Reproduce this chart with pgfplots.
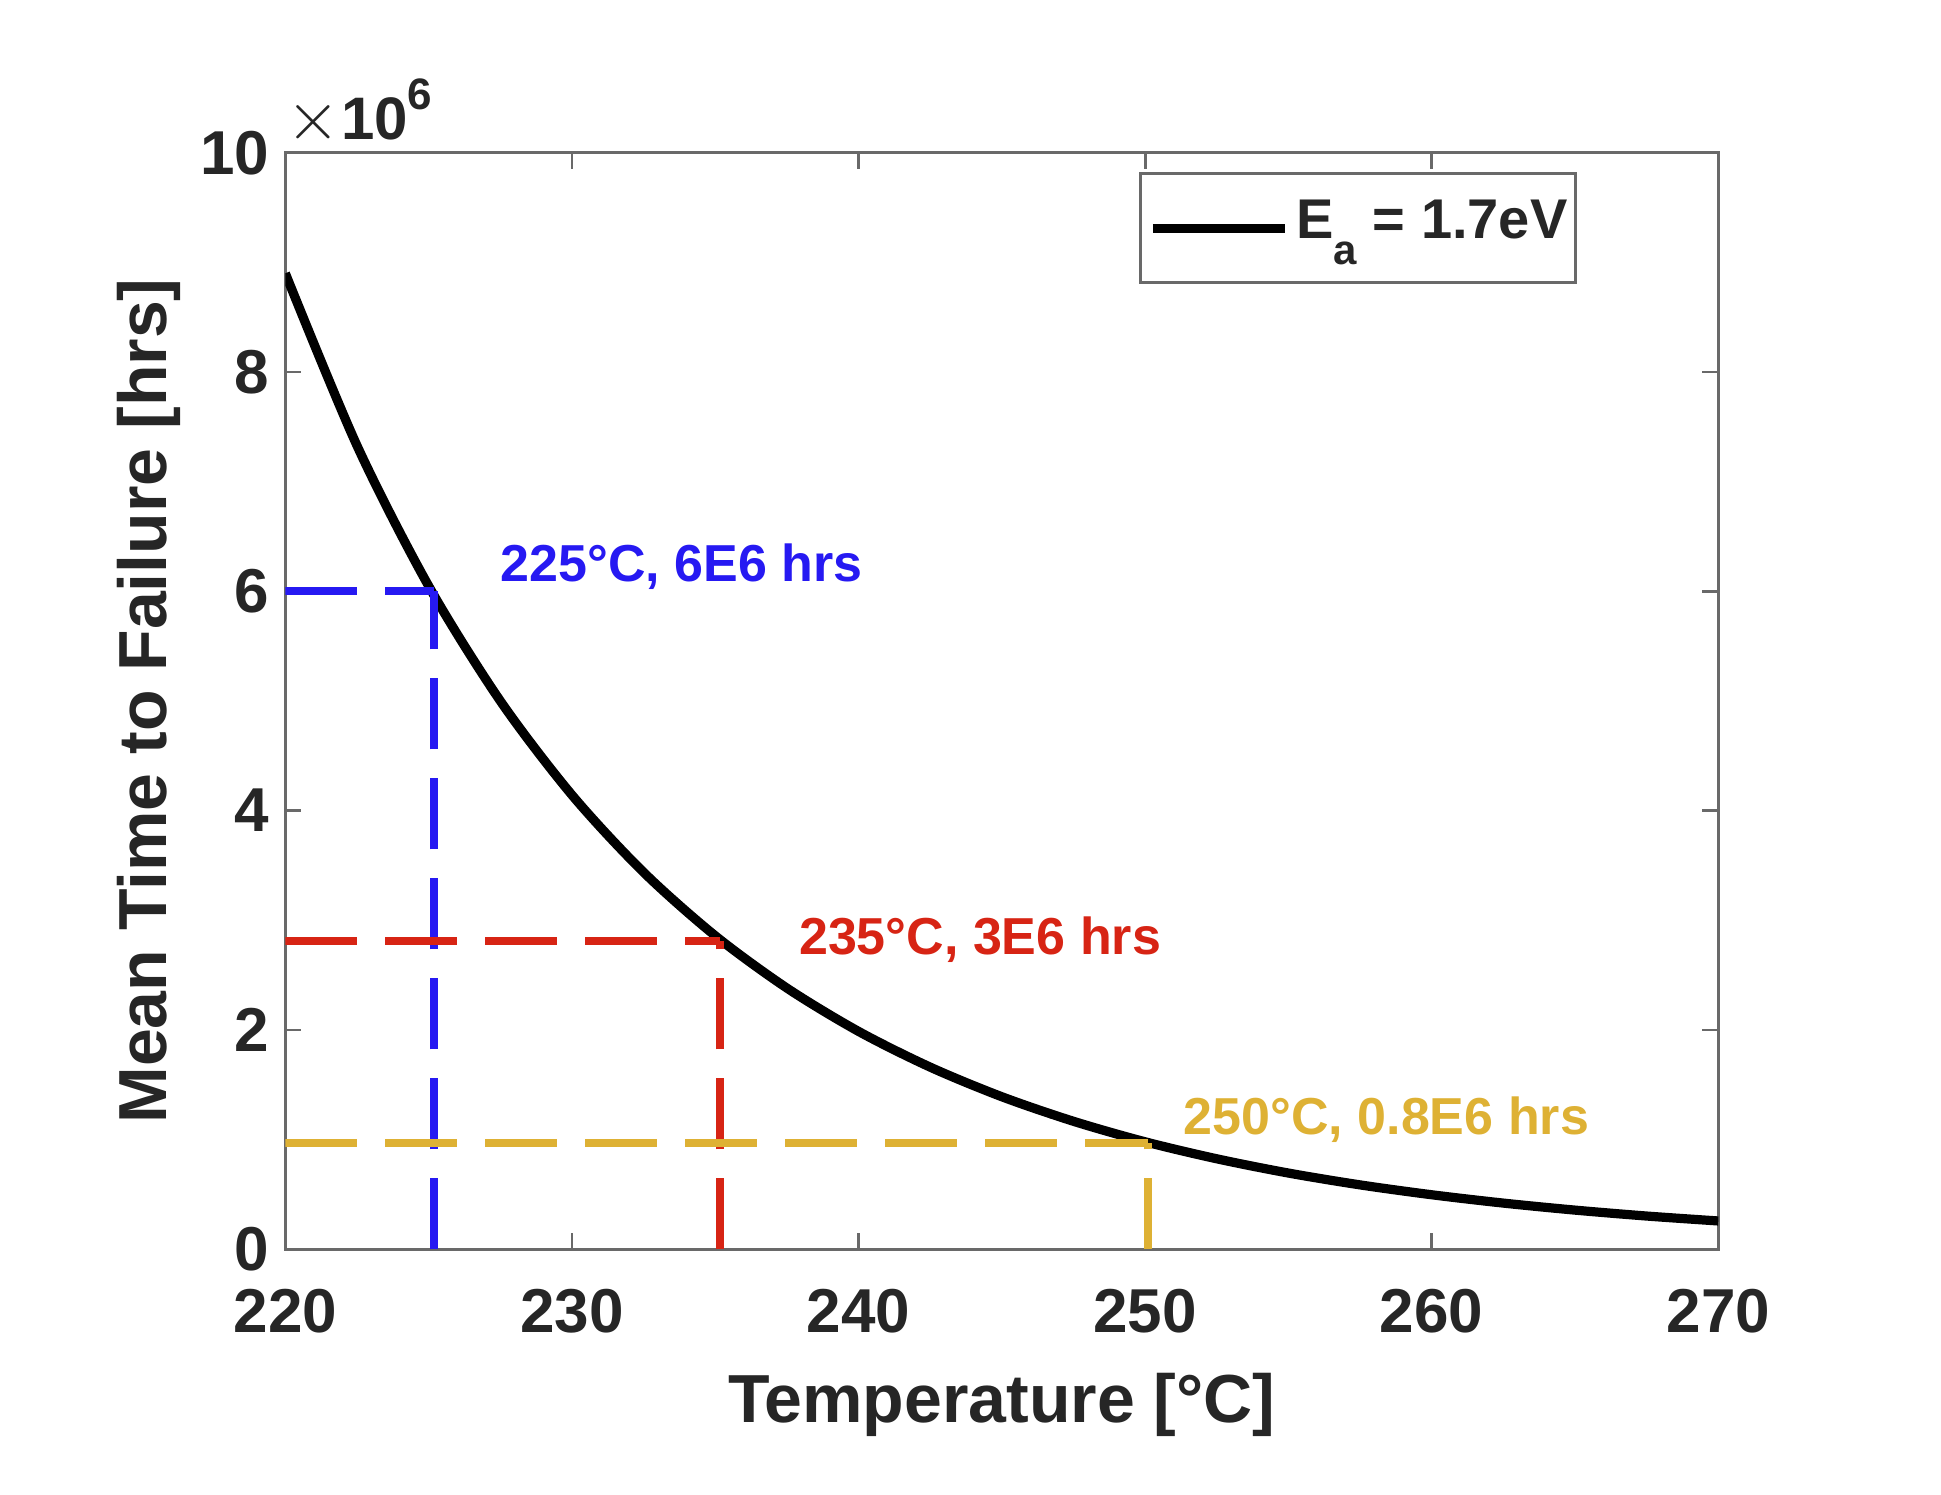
\documentclass[border=0pt]{standalone}
\usepackage{fontspec}
\setmainfont{Liberation Sans}
\usepackage{pgfplots}
\pgfplotsset{compat=1.18}
\definecolor{txtgray}{RGB}{38,38,38}
\definecolor{axgray}{RGB}{105,105,105}
\definecolor{cblue}{RGB}{38,25,242}
\definecolor{cred}{RGB}{215,36,20}
\definecolor{cyel}{RGB}{222,177,52}
\begin{document}
\begin{tikzpicture}
\begin{axis}[
  name=ax, at={(0,0)}, anchor=south west,
  scale only axis, width=358.25pt, height=274.15pt,
  xmin=220, xmax=270, ymin=0, ymax=10,
  clip mode=individual,
  xtick={220,230,...,270}, ytick={0,2,...,10},
  axis line style={draw=axgray, line width=0.7pt},
  every tick/.style={draw=axgray, line width=0.7pt},
  major tick length=4pt, tick align=inside,
  /pgf/number format/assume math mode=true,
  tick label style={font=\fontsize{15.5}{15.5}\selectfont\bfseries, text=txtgray},
  xticklabel style={yshift=-6.5pt},
  yticklabel style={xshift=-0.5pt},
  xlabel={Temperature [°C]},
  ylabel={Mean Time to Failure [hrs]},
  label style={font=\fontsize{17}{17}\selectfont\bfseries, text=txtgray},
  xlabel style={at={(axis description cs:0.5,-0.1576)}, anchor=base},
  ylabel style={at={(axis description cs:-0.0826,0.5)}, rotate=0, anchor=base},
  legend style={at={(0.5957,0.982)}, anchor=north west, draw=axgray, line width=0.7pt,
    inner xsep=2pt, inner ysep=4.5pt, column sep=1.75pt,
    font=\fontsize{14}{14}\selectfont\bfseries, text=txtgray,
    nodes={inner sep=0pt, text height=11.75pt, text depth=6.5pt},
    cells={anchor=base west}},
  legend image code/.code={\draw[#1, line width=2.3pt] (0pt,2.5pt) -- (33pt,2.5pt);},
]
\addplot[black, line width=2.3pt, smooth] coordinates {
(220,8.900) (222.5,7.329) (225,6.049) (227.5,5.001) (230,4.143)
(232.5,3.438) (235,2.859) (237.5,2.382) (240,1.987) (242.5,1.661)
(245,1.391) (247.5,1.167) (250,0.980) (252.5,0.825) (255,0.695)
(257.5,0.587) (260,0.497) (262.5,0.421) (265,0.357) (267.5,0.303) (270,0.258)};
\addlegendentry{E\raisebox{-6.5pt}{\fontsize{10.5}{10.5}\selectfont a} = 1.7eV}
\pgfplotsset{every axis plot/.append style={forget plot}}
\addplot[cblue, line width=2pt, dash pattern=on 17.9pt off 7.1pt] coordinates {(220,6.0) (225.2,6.0)};
\addplot[cblue, line width=2pt, dash pattern=on 17.9pt off 7.1pt] coordinates {(225.2,0) (225.2,6.0)};
\addplot[cred, line width=2pt, dash pattern=on 17.9pt off 7.1pt] coordinates {(220,2.81) (235.17,2.81)};
\addplot[cred, line width=2pt, dash pattern=on 17.9pt off 7.1pt] coordinates {(235.17,0) (235.17,2.81)};
\addplot[cyel, line width=2pt, dash pattern=on 17.9pt off 7.1pt] coordinates {(220,0.967) (250.1,0.967)};
\addplot[cyel, line width=2pt, dash pattern=on 17.9pt off 7.1pt] coordinates {(250.1,0) (250.1,0.967)};
\node[anchor=base west, inner sep=0pt, text=cblue, font=\fontsize{13}{13}\selectfont\bfseries] at (axis cs:227.49,6.088) {225°C, 6E6 hrs};
\node[anchor=base west, inner sep=0pt, text=cred, font=\fontsize{13}{13}\selectfont\bfseries] at (axis cs:237.90,2.684) {235°C, 3E6 hrs};
\node[anchor=base west, inner sep=0pt, text=cyel, font=\fontsize{13}{13}\selectfont\bfseries] at (axis cs:251.32,1.051) {250°C, 0.8E6 hrs};
\end{axis}
\node[anchor=base west, inner sep=0pt, text=txtgray, xshift=0pt, yshift=3.4pt] at (ax.north west)
  {\fontsize{16.5}{16.5}\selectfont$\times$\kern0.3pt\fontsize{15}{15}\selectfont\bfseries 10\raisebox{7.5pt}{\fontsize{11}{11}\selectfont\bfseries 6}};
\pgfresetboundingbox
\path[use as bounding box] (ax.south west) ++(-71.33pt,-61.43pt) rectangle ++(485.25pt,373.75pt);
\end{tikzpicture}
\end{document}
